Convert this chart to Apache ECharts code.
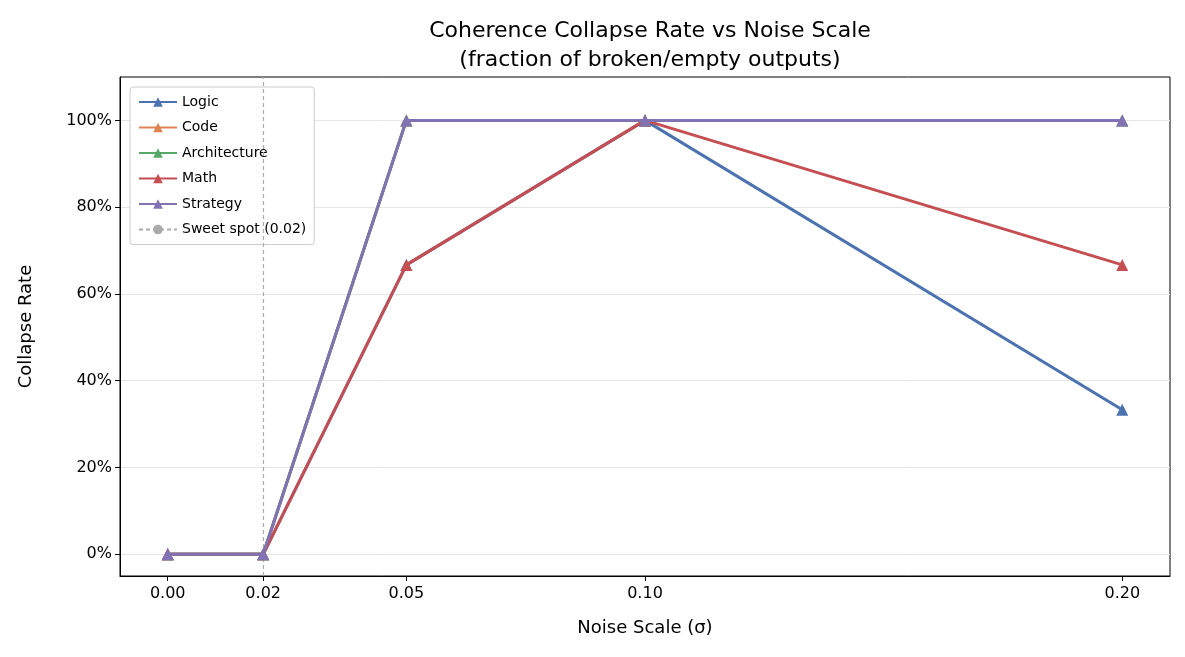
<!DOCTYPE html>
<html><head><meta charset="utf-8">
<script src="https://cdn.jsdelivr.net/npm/echarts@6/dist/echarts.min.js"></script>
<style>html,body{margin:0;padding:0;background:#fff}#c{width:1185px;height:657px}</style>
</head><body><div id="c"></div>
<script>
var noise = [0, 0.02, 0.05, 0.10, 0.20];
var xTicks = [0, 0.02, 0.05, 0.10, 0.20];
var yTicks = [0, 20, 40, 60, 80, 100];
var names = ['Logic', 'Code', 'Architecture', 'Math', 'Strategy'];
var colors = ['#4C72B0', '#DD8452', '#55A868', '#C44E52', '#8172B3'];
var rates = [
  [0, 0, 66.7, 100, 33.3],
  [0, 0, 100, 100, 100],
  [0, 0, 100, 100, 100],
  [0, 0, 66.7, 100, 66.7],
  [0, 0, 100, 100, 100]
];
var sweetSpot = 0.02;

var chart = echarts.init(document.getElementById('c'));
var series = names.map(function (n, i) {
  return {
    name: n, type: 'line', data: noise.map(function (x, j) { return [x, rates[i][j]]; }),
    symbol: 'triangle', symbolSize: 12, color: colors[i],
    lineStyle: { width: 3, color: colors[i] }, itemStyle: { color: colors[i] }, z: 3 + i
  };
});
series.push({
  name: 'Sweet spot (0.02)', type: 'line', data: [], symbol: 'none', color: '#aaaaaa',
  lineStyle: { type: [4, 3], width: 1.2, color: '#aaaaaa' },
  markLine: { silent: true, symbol: 'none', label: { show: false },
    lineStyle: { type: [4, 3], width: 1.2, color: '#aaaaaa' }, data: [{ xAxis: sweetSpot }] }
});

chart.setOption({
  animation: false,
  textStyle: { fontFamily: 'DejaVu Sans' },
  title: {
    text: 'Coherence Collapse Rate vs Noise Scale\n(fraction of broken/empty outputs)',
    left: 645, top: 12, textAlign: 'center',
    textStyle: { fontSize: 22, fontWeight: 'normal', lineHeight: 29, color: '#000' }
  },
  grid: { left: 120, right: 15, top: 77, bottom: 81, show: true, borderColor: '#000', borderWidth: 1 },
  legend: {
    orient: 'vertical', left: 130, top: 87, padding: [8, 8, 8, 8], itemGap: 11.5,
    backgroundColor: '#fff', borderColor: '#ccc', borderWidth: 1, borderRadius: 3,
    itemWidth: 38, itemHeight: 12, textStyle: { fontSize: 14, color: '#000' },
    data: names.concat(['Sweet spot (0.02)'])
  },
  xAxis: {
    type: 'value', min: -0.01, max: 0.21, name: 'Noise Scale (σ)', nameLocation: 'middle', nameGap: 43,
    nameTextStyle: { fontSize: 18, color: '#000' },
    splitLine: { show: false }, axisLine: { onZero: false, lineStyle: { color: '#000' } },
    axisTick: { customValues: xTicks, length: 5, lineStyle: { color: '#000' } },
    axisLabel: { customValues: xTicks, fontSize: 16, color: '#000', margin: 10,
      formatter: function (v) { return v.toFixed(2); } }
  },
  yAxis: {
    type: 'value', min: -5, max: 110, name: 'Collapse Rate', nameLocation: 'middle', nameGap: 85,
    nameTextStyle: { fontSize: 18, color: '#000' },
    axisLine: { show: true, onZero: false, lineStyle: { color: '#000' } },
    axisTick: { show: true, customValues: yTicks, length: 5, lineStyle: { color: '#000' } },
    axisLabel: { customValues: yTicks, fontSize: 16, color: '#000', formatter: '{value}%' },
    splitLine: { show: true, lineStyle: { color: '#e6e6e6' } }
  },
  series: series
});
</script></body></html>
